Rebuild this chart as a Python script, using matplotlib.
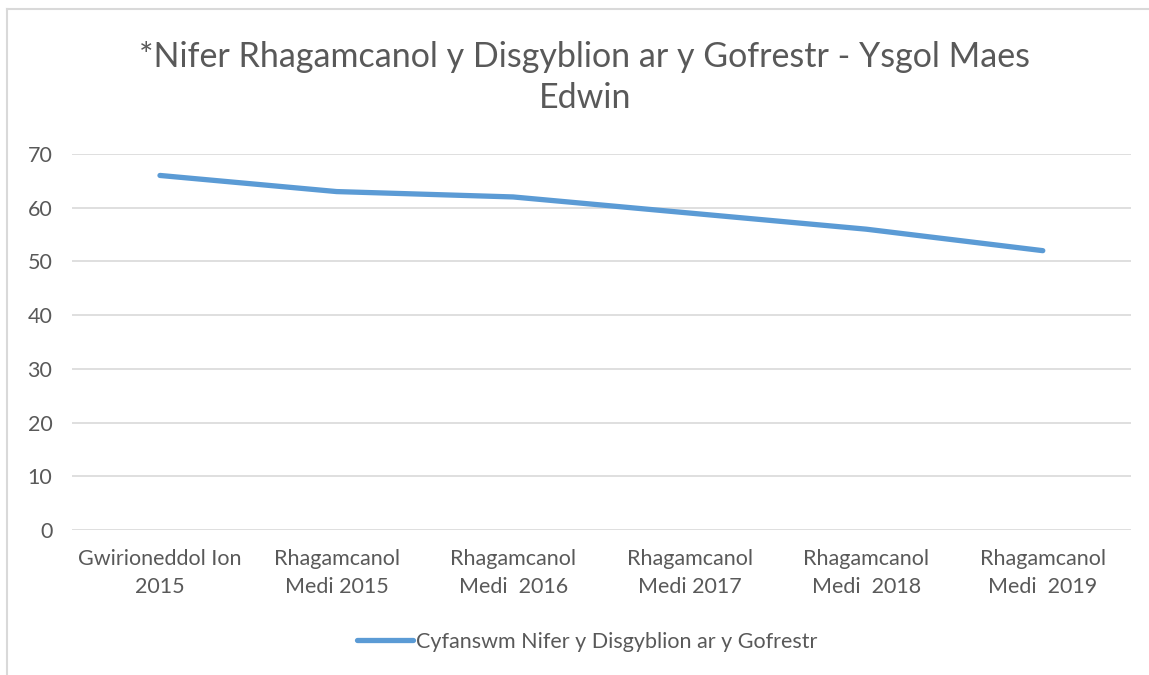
"""Nifer Rhagamcanol y Disgyblion - Ysgol Maes Edwin"""
import matplotlib
matplotlib.use("Agg")
import matplotlib.pyplot as plt
from matplotlib.lines import Line2D

categories = ["Gwirioneddol Ion\n2015", "Rhagamcanol\nMedi 2015", "Rhagamcanol\nMedi  2016",
              "Rhagamcanol\nMedi 2017", "Rhagamcanol\nMedi  2018", "Rhagamcanol\nMedi  2019"]
pupils = [66, 63, 62, 59, 56, 52]
series_name = "Cyfanswm Nifer y Disgyblion ar y Gofrestr"
title = "*Nifer Rhagamcanol y Disgyblion ar y Gofrestr - Ysgol Maes\nEdwin"

text_col = "#595959"
grid_col = "#D9D9D9"
line_col = "#5B9BD5"

plt.rcParams["font.family"] = ["Lato", "DejaVu Sans"]

fig = plt.figure(figsize=(11.49, 6.75), dpi=100)
ax = fig.add_axes([0.0624, 0.2148, 0.922, 0.5571])

x = list(range(len(categories)))
ax.plot(x, pupils, color=line_col, lw=3.8, solid_capstyle="round",
        solid_joinstyle="round")
ax.set_xlim(-0.5, len(categories) - 0.5)
ax.set_ylim(0, 70)
ax.set_yticks(range(0, 71, 10))
ax.set_xticks(x)
ax.set_xticklabels(categories, linespacing=1.5)
ax.grid(axis="y", color=grid_col, lw=1.2)
ax.set_axisbelow(True)
for s in ax.spines.values():
    s.set_visible(False)
ax.tick_params(axis="both", length=0, labelsize=15.5, colors=text_col)
ax.tick_params(axis="y", pad=14)
ax.tick_params(axis="x", pad=14)

fig.text(0.509, 0.885, title, ha="center", va="center", fontsize=24.5,
         color=text_col, linespacing=1.32)

handle = Line2D([], [], color=line_col, lw=3.8, solid_capstyle="round")
fig.legend([handle], [series_name], loc="center", bbox_to_anchor=(0.511, 0.049),
           frameon=False, fontsize=15.5, labelcolor=text_col, handlelength=2.6,
           handletextpad=0.1)

# chart border (top and left visible)
fig.add_artist(Line2D([0.0065, 0.0065], [0, 0.987], color=grid_col, lw=1.5,
                      transform=fig.transFigure))
fig.add_artist(Line2D([0.0065, 1], [0.987, 0.987], color=grid_col, lw=1.5,
                      transform=fig.transFigure))

fig.savefig("out.png", dpi=100)
